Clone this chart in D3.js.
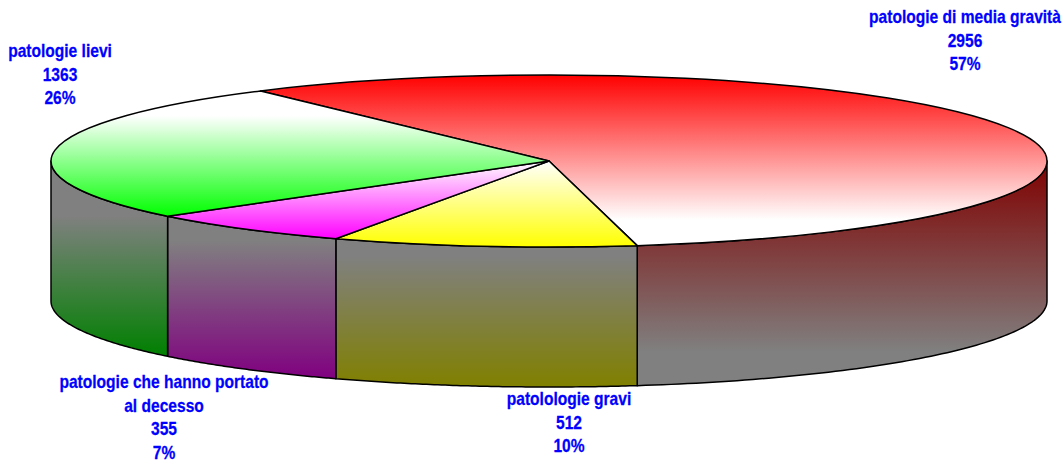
<!DOCTYPE html>
<html>
<head>
<meta charset="utf-8">
<script src="https://cdn.jsdelivr.net/npm/d3@7"></script>
<style>
  html, body { margin: 0; padding: 0; background: #fff; }
  text { font-family: "Liberation Sans", Arial, sans-serif; font-weight: bold; font-size: 17.5px; fill: #0000ff; stroke: #0000ff; stroke-width: 0.25px; }
</style>
</head>
<body>
<div class="chart"></div>
<script>
var categories = ['patologie di media gravità', 'patolologie gravi', 'patologie che hanno portato|al decesso', 'patologie lievi'];
var values = [2956, 512, 355, 1363];
var percents = ['57%', '10%', '7%', '26%'];
var topColors = ['#ff0000', '#ffff00', '#ff00ff', '#00ff00'];
var sideColors = ['#800000', '#808000', '#800080', '#008000'];

var w = 1062, h = 462;
var cx = 549, cy = 161, rx = 498, ry = 86, depth = 140;

// label anchors: centre x, first baseline
var labelPos = [[965, 23], [569, 405], [164, 388], [60, 57]];
var lineHeight = 23.7;
var squeeze = 0.89;

// where the solid part of each gradient starts or ends
var topStops = [0.85, 0, 0, 0.2];
var sideStops = [0.85, 0.12, 0.15, 0.28];

var svg = d3.select('.chart')
  .append('svg')
  .attr('width', w)
  .attr('height', h)
  .style('display', 'block');

var defs = svg.append('defs');

var addGradient = function (id, c0, off0, c1, off1) {
  var g = defs.append('linearGradient')
    .attr('id', id)
    .attr('x1', 0).attr('y1', 0)
    .attr('x2', 0).attr('y2', 1);
  g.append('stop').attr('offset', off0).attr('stop-color', c0);
  g.append('stop').attr('offset', off1).attr('stop-color', c1);
};

// the first slice starts about 35 degrees left of the top of the ellipse
var startAngle = -35.4 * Math.PI / 180;
var pie = d3.pie().sort(null).startAngle(startAngle).endAngle(startAngle + 2 * Math.PI);
var slices = pie(values);

values.forEach(function (v, i) {
  // red fades the other way round from the rest
  if (i === 0) {
    addGradient('top' + i, topColors[i], 0, '#ffffff', topStops[i]);
    addGradient('side' + i, sideColors[i], 0, '#808080', sideStops[i]);
  } else {
    addGradient('top' + i, '#ffffff', topStops[i], topColors[i], 1);
    addGradient('side' + i, '#808080', sideStops[i], sideColors[i], 1);
  }
});

var px = function (a) { return cx + rx * Math.sin(a); };
var py = function (a) { return cy - ry * Math.cos(a); };

// side walls, only the front half of the rim is visible
var sidePath = function (d) {
  var a0 = Math.max(d.startAngle, Math.PI / 2);
  var a1 = Math.min(d.endAngle, 3 * Math.PI / 2);
  if (a1 <= a0) return null;
  var n = 80;
  var angles = d3.range(n + 1).map(function (k) { return a0 + (a1 - a0) * k / n; });
  var top = angles.map(function (a) { return [px(a), py(a)]; });
  var bottom = angles.slice().reverse().map(function (a) { return [px(a), py(a) + depth]; });
  return d3.line()(top.concat(bottom)) + 'Z';
};

svg.selectAll('path.side')
  .data(slices)
  .enter()
  .append('path')
  .attr('class', 'side')
  .attr('d', sidePath)
  .attr('fill', function (d, i) { return 'url(#side' + i + ')'; })
  .attr('stroke', '#000')
  .attr('stroke-width', 1.5)
  .attr('stroke-linejoin', 'round');

// top faces, a plain arc squashed into the ellipse
var arc = d3.arc().innerRadius(0).outerRadius(rx);

svg.selectAll('path.top')
  .data(slices)
  .enter()
  .append('path')
  .attr('class', 'top')
  .attr('d', arc)
  .attr('transform', 'translate(' + cx + ',' + cy + ') scale(1,' + (ry / rx) + ')')
  .attr('vector-effect', 'non-scaling-stroke')
  .attr('fill', function (d, i) { return 'url(#top' + i + ')'; })
  .attr('stroke', '#000')
  .attr('stroke-width', 1.5)
  .attr('stroke-linejoin', 'round');

// labels, one text per line, squeezed because the original font is narrower
categories.forEach(function (c, i) {
  var lines = c.split('|').concat([String(values[i]), percents[i]]);
  lines.forEach(function (line, k) {
    svg.append('text')
      .attr('text-anchor', 'middle')
      .attr('transform', 'translate(' + labelPos[i][0] + ',' + (labelPos[i][1] + k * lineHeight) + ') scale(' + squeeze + ',1)')
      .text(line);
  });
});
</script>
</body>
</html>
